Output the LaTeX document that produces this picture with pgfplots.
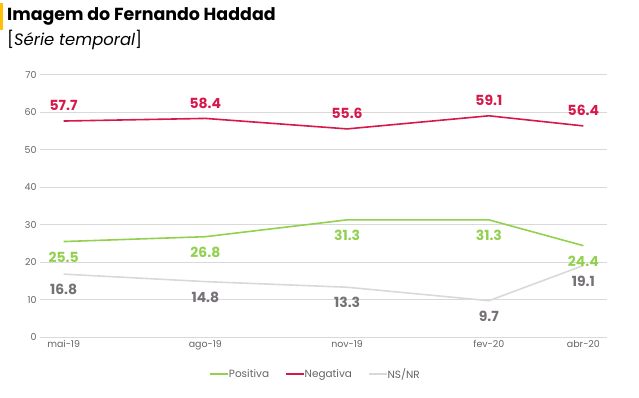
\documentclass[border=0pt]{standalone}
\usepackage{fontspec}
\setmainfont{Poppins}
\usepackage{pgfplots}
\pgfplotsset{compat=1.18}
\definecolor{cpos}{RGB}{146,208,80}
\definecolor{cneg}{RGB}{214,24,74}
\definecolor{cnsnr}{RGB}{217,217,217}
\definecolor{clbl}{RGB}{118,113,118}
\definecolor{tickc}{RGB}{100,100,100}
\definecolor{gridc}{RGB}{217,217,217}
\definecolor{barc}{RGB}{255,192,0}
\begin{document}
\begin{tikzpicture}[x=1bp,y=1bp]
\path[use as bounding box] (0,0) rectangle (639,397);
\fill[barc] (0,367) rectangle (3,394);
\node[anchor=base west, inner sep=0pt, font=\bfseries\fontsize{17.5}{19}\selectfont] at (7,377) {Imagem do Fernando Haddad};
\node[anchor=base west, inner sep=0pt, font=\fontsize{16.5}{18}\selectfont] at (7,352) {[\textit{Série temporal}]};
\begin{axis}[
  at={(40bp,60bp)}, anchor=south west,
  scale only axis, width=567bp, height=262bp,
  xmin=-0.5, xmax=11.5, ymin=0, ymax=70,
  xtick={0,3,6,9,11},
  xticklabels={mai-19,ago-19,nov-19,fev-20,abr-20},
  ytick={0,10,...,70},
  axis line style={draw=none},
  tick style={draw=none},
  ymajorgrids,
  grid style={gridc, line width=1bp},
  ticklabel style={font=\fontsize{9.5}{11}\selectfont, text=tickc},
  /pgf/number format/assume math mode=true,
  legend style={at={(0.486,-0.142)}, anchor=center, draw=none, fill=none,
    legend columns=-1, font=\fontsize{10.5}{12}\selectfont, text=tickc,
    /tikz/every odd column/.append style={column sep=-2bp},
    /tikz/every even column/.append style={column sep=14bp}},
  legend image code/.code={\draw[#1] (0bp,0bp) -- (18bp,0bp);},
  every axis plot/.append style={line width=1.6bp, mark=none},
  nodes near coords,
  point meta=y,
  every node near coord/.append style={/pgf/number format/fixed, /pgf/number format/precision=1, /pgf/number format/zerofill},
]
\addplot[cpos, every node near coord/.append style={font=\bfseries\fontsize{14}{16}\selectfont, text=cpos, anchor=north, yshift=-6bp}]
  coordinates {(0,25.5) (3,26.8) (6,31.3) (9,31.3) (11,24.4)};
\addlegendentry{Positiva}
\addplot[cneg, every node near coord/.append style={font=\bfseries\fontsize{14}{16}\selectfont, text=cneg, anchor=south, yshift=6bp}]
  coordinates {(0,57.7) (3,58.4) (6,55.6) (9,59.1) (11,56.4)};
\addlegendentry{Negativa}
\addplot[cnsnr, every node near coord/.append style={font=\bfseries\fontsize{14}{16}\selectfont, text=clbl, anchor=north, yshift=-6bp}]
  coordinates {(0,16.8) (3,14.8) (6,13.3) (9,9.7) (11,19.1)};
\addlegendentry{NS/NR}
\end{axis}
\end{tikzpicture}
\end{document}
